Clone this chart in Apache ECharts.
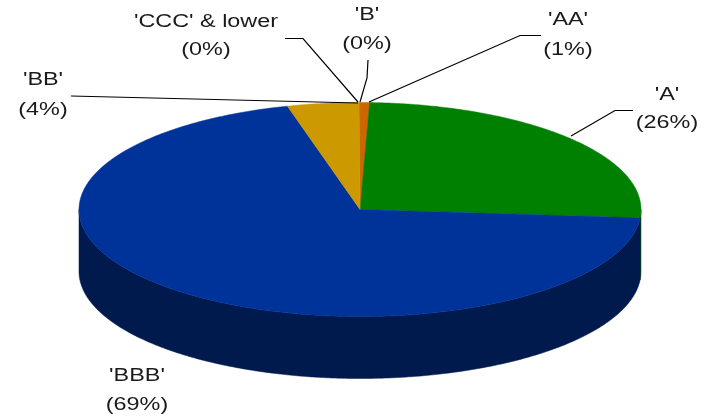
<!DOCTYPE html>
<html>
<head>
<meta charset="utf-8">
<style>html,body{margin:0;padding:0;background:#fff}#chart{width:711px;height:416px}</style>
<script src="https://cdn.jsdelivr.net/npm/echarts@6/dist/echarts.min.js"></script>
</head>
<body>
<div id="chart"></div>
<script>
// Data, clockwise from the top of the pie
var categories = ["'AA'", "'A'", "'BBB'", "'BB'", "'CCC' & lower", "'B'"];
var values = [0.6, 25.7, 69.6, 4.1, 0, 0];
var percentLabels = ['(1%)', '(26%)', '(69%)', '(4%)', '(0%)', '(0%)'];

// Styling and layout, kept apart from the data
var topColors = ['#CC6600', '#008000', '#003399', '#CC9900', '#CC9900', '#CC6600'];
var wallColors = ['#663300', '#004000', '#001A4D', '#664D00', '#664D00', '#663300'];
var pie = {cx: 360, cy: 209.5, rx: 281, ry: 107, depth: 62, start: -0.2};
var labelLayout = [
  {x: 568, y1: 20, y2: 50, line: [[369, 102], [520, 35.5], [541, 35.5]]},
  {x: 667, y1: 95, y2: 123, line: [[571, 136], [615, 110.5], [633, 110.5]]},
  {x: 137, y1: 376, y2: 405, line: null},
  {x: 43, y1: 80, y2: 110, line: [[358, 103], [71, 96]]},
  {x: 206, y1: 22, y2: 50, line: [[358, 102], [303, 38.5], [285, 38.5]]},
  {x: 367, y1: 15, y2: 44, line: [[360, 102], [367, 78], [368, 60]]}
];
var textStyle = {fontFamily: '"Liberation Sans"', fontSize: 18, fill: '#1a1a1a', align: 'center', verticalAlign: 'middle'};

var total = values.reduce(function (a, b) { return a + b; }, 0);

function point(deg, dy) {
  var r = deg * Math.PI / 180;
  return [pie.cx + pie.rx * Math.sin(r), pie.cy - pie.ry * Math.cos(r) + (dy || 0)];
}
function label(text, x, y) {
  return {
    type: 'text', x: x, y: y, scaleX: 1.3, z2: 20,
    style: Object.assign({text: text}, textStyle)
  };
}

function renderItem(params, api) {
  var i = api.value(1), before = 0;
  for (var k = 0; k < i; k++) before += values[k];
  var a0 = pie.start + before / total * 360;
  var a1 = a0 + api.value(0) / total * 360;
  var children = [];

  if (a1 > a0) {
    // top face
    var top = [[pie.cx, pie.cy]];
    for (var a = a0; a < a1; a += 0.5) top.push(point(a));
    top.push(point(a1));
    children.push({
      type: 'polygon', z2: 5, shape: {points: top},
      style: {fill: topColors[i], stroke: topColors[i], lineWidth: 0.5}
    });
    // visible part of the side wall: the front half of the ellipse
    var w0 = Math.max(a0, 90), w1 = Math.min(a1, 270);
    if (w1 > w0) {
      var upper = [], lower = [];
      for (var b = w0; b < w1; b += 0.5) { upper.push(point(b)); lower.unshift(point(b, pie.depth)); }
      upper.push(point(w1)); lower.unshift(point(w1, pie.depth));
      children.push({
        type: 'polygon', z2: 1, shape: {points: upper.concat(lower)},
        style: {fill: wallColors[i], stroke: wallColors[i], lineWidth: 0.5}
      });
    }
  }
  var lay = labelLayout[i];
  if (lay.line) {
    children.push({
      type: 'polyline', z2: 10, shape: {points: lay.line},
      style: {fill: null, stroke: '#000', lineWidth: 1.2}
    });
  }
  children.push(label(categories[i], lay.x, lay.y1));
  children.push(label(percentLabels[i], lay.x, lay.y2));
  return {type: 'group', children: children};
}

var chart = echarts.init(document.getElementById('chart'), null, {renderer: 'canvas'});
chart.setOption({
  animation: false,
  backgroundColor: '#fff',
  series: [{
    type: 'custom',
    coordinateSystem: 'none',
    renderItem: renderItem,
    silent: true,
    data: categories.map(function (c, i) { return {name: c, value: [values[i], i]}; })
  }]
});
</script>
</body>
</html>
